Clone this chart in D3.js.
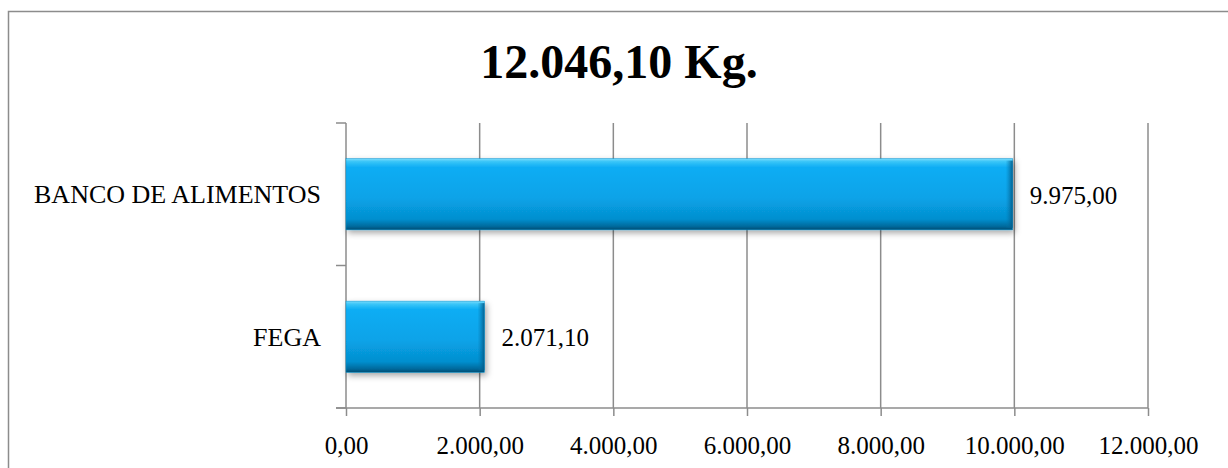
<!DOCTYPE html>
<html>
<head>
<meta charset="utf-8">
<script src="https://cdn.jsdelivr.net/npm/d3@7"></script>
<style>
  body { margin: 0; background: #fff; }
  svg { display: block; font-family: "Liberation Serif", "Times New Roman", serif; }
</style>
</head>
<body>
<div id="chart"></div>
<script>
// datos del grafico
const titulo = "12.046,10 Kg.";
const categorias = ["BANCO DE ALIMENTOS", "FEGA"];
const valores = [9975, 2071.1];
const ticksX = [0, 2000, 4000, 6000, 8000, 10000, 12000];

const W = 1228, H = 468;
const margin = { top: 123, right: 80, bottom: 60, left: 346 };
const width = 1148 - margin.left;
const height = 408 - margin.top;

// formato español: 9.975,00
const es = d3.formatLocale({ decimal: ",", thousands: ".", grouping: [3], currency: ["", " €"] });
const fmt = es.format(",.2f");

const svg = d3.select("#chart").append("svg")
  .attr("width", W)
  .attr("height", H);

const defs = svg.append("defs");
const grad = defs.append("linearGradient")
  .attr("id", "barGrad")
  .attr("x1", 0).attr("y1", 0).attr("x2", 0).attr("y2", 1);
[["0%", "#7adcfc"], ["4%", "#3cc6f8"], ["12%", "#0cadf4"], ["55%", "#08a3e8"],
 ["85%", "#058fcf"], ["95%", "#046a9d"], ["100%", "#034d73"]]
  .forEach(s => grad.append("stop").attr("offset", s[0]).attr("stop-color", s[1]));

const endGrad = defs.append("linearGradient")
  .attr("id", "endGrad")
  .attr("x1", 0).attr("y1", 0).attr("x2", 1).attr("y2", 0);
endGrad.append("stop").attr("offset", "0%").attr("stop-color", "#0576ad").attr("stop-opacity", 0);
endGrad.append("stop").attr("offset", "100%").attr("stop-color", "#035a86").attr("stop-opacity", 0.9);

const sombra = defs.append("filter")
  .attr("id", "sombra")
  .attr("x", "-5%").attr("y", "-20%").attr("width", "115%").attr("height", "160%");
sombra.append("feDropShadow")
  .attr("dx", 2).attr("dy", 3)
  .attr("stdDeviation", 3)
  .attr("flood-color", "#000")
  .attr("flood-opacity", 0.35);

// marco exterior
svg.append("rect")
  .attr("x", 8.5).attr("y", 11.5)
  .attr("width", W + 20).attr("height", H + 20)
  .attr("fill", "none")
  .attr("stroke", "#8c8c8c")
  .attr("stroke-width", 1.5);

// titulo
svg.append("text")
  .attr("x", 619)
  .attr("y", 78)
  .attr("text-anchor", "middle")
  .attr("font-size", 48)
  .attr("font-weight", "bold")
  .attr("fill", "#000")
  .text(titulo);

const g = svg.append("g")
  .attr("transform", "translate(" + margin.left + "," + margin.top + ")");

const x = d3.scaleLinear().domain([0, 12000]).range([0, width]);
const y = d3.scaleBand().domain(categorias).range([0, height])
  .paddingInner(0.5).paddingOuter(0.25);

// lineas de cuadricula
g.append("g")
  .selectAll("line")
  .data(ticksX.slice(1))
  .enter()
  .append("line")
  .attr("x1", d => x(d)).attr("x2", d => x(d))
  .attr("y1", 0).attr("y2", height)
  .attr("stroke", "#8c8c8c")
  .attr("stroke-width", 1.5);

// eje x
const ejeX = g.append("g")
  .attr("transform", "translate(0," + height + ")")
  .call(d3.axisBottom(x).tickValues(ticksX).tickFormat(fmt).tickSize(8).tickPadding(20));
ejeX.select(".domain").remove();
ejeX.selectAll(".tick line").attr("stroke", "#8c8c8c").attr("stroke-width", 1.5);
ejeX.selectAll("text")
  .attr("font-size", 25)
  .attr("font-family", "Liberation Serif, serif")
  .attr("fill", "#000");
g.append("line")
  .attr("x1", -10).attr("x2", width)
  .attr("y1", height).attr("y2", height)
  .attr("stroke", "#8c8c8c").attr("stroke-width", 1.5);

// eje y (ticks entre categorias)
const bordesY = [0, height / 2, height];
g.append("line")
  .attr("x1", 0).attr("x2", 0)
  .attr("y1", 0).attr("y2", height)
  .attr("stroke", "#8c8c8c").attr("stroke-width", 1.5);
g.append("g")
  .selectAll("line")
  .data(bordesY)
  .enter()
  .append("line")
  .attr("x1", -10).attr("x2", 0)
  .attr("y1", d => d).attr("y2", d => d)
  .attr("stroke", "#8c8c8c").attr("stroke-width", 1.5);

g.append("g")
  .selectAll("text")
  .data(categorias)
  .enter()
  .append("text")
  .attr("x", -25)
  .attr("y", d => y(d) + y.bandwidth() / 2)
  .attr("dy", "0.35em")
  .attr("text-anchor", "end")
  .attr("font-size", 26)
  .attr("fill", "#000")
  .text(d => d);

// barras
const barras = g.append("g")
  .selectAll("g")
  .data(categorias)
  .enter()
  .append("g");

barras.append("rect")
  .attr("x", 0)
  .attr("y", d => y(d))
  .attr("width", (d, i) => x(valores[i]))
  .attr("height", y.bandwidth())
  .attr("fill", "url(#barGrad)")
  .attr("stroke", "#0692cf")
  .attr("stroke-width", 0.5)
  .attr("filter", "url(#sombra)");

// bisel del extremo derecho
barras.append("rect")
  .attr("x", (d, i) => x(valores[i]) - 7)
  .attr("y", d => y(d) + 2)
  .attr("width", 7)
  .attr("height", y.bandwidth() - 4)
  .attr("fill", "url(#endGrad)");

// etiquetas de valor
barras.append("text")
  .attr("x", (d, i) => x(valores[i]) + 17)
  .attr("y", d => y(d) + y.bandwidth() / 2)
  .attr("dy", "0.38em")
  .attr("font-size", 25)
  .attr("fill", "#000")
  .text((d, i) => fmt(valores[i]));
</script>
</body>
</html>
